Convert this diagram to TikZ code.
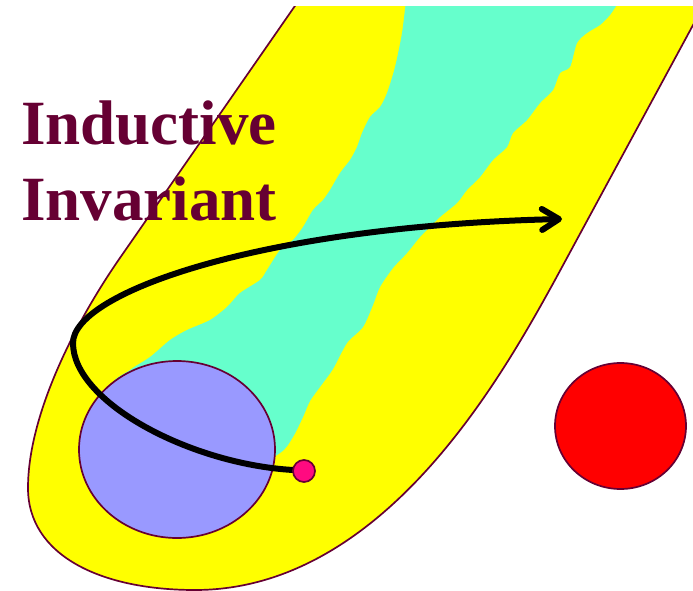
\documentclass[tikz,border=0pt]{standalone}
\usepackage{fontspec}
\setmainfont{Liberation Serif}
\usetikzlibrary{arrows.meta}
\definecolor{edgec}{HTML}{660033}
\definecolor{yel}{HTML}{FFFF00}
\definecolor{cyn}{HTML}{66FFCC}
\definecolor{blu}{HTML}{9999FF}
\definecolor{pnk}{HTML}{FF0A80}
\definecolor{rd}{HTML}{FF0000}
\tikzset{
  region/.style={draw=edgec, line width=1.7pt},
  pathline/.style={draw=black, line width=6pt, -{Straight Barb[length=17pt,width=21pt,round]}},
  blob/.style={ellipse, draw=edgec, line width=1.7pt, inner sep=0pt},
  label/.style={text=edgec, font=\bfseries\fontsize{63}{76}\selectfont, anchor=base west, inner sep=0pt}
}
\usetikzlibrary{shapes.geometric}
\begin{document}
\begin{tikzpicture}[x=1pt,y=-1pt]
\useasboundingbox (0,0) rectangle (693,591);
\begin{scope}
  \clip (0,7) rectangle (693,591);
  % yellow invariant region
  \path[region, fill=yel] (306,-10) -- (122,255)
    .. controls (75,322) and (28,415) .. (28,488)
    .. controls (28,555) and (100,590) .. (195,590)
    .. controls (382,590) and (500,380) .. (555,280)
    -- (712,-10) -- cycle;
  % cyan band
  \fill[cyn] plot[smooth, tension=0.45] coordinates {
    (406,0) (402,33) (395,67) (387,93) (380,107) (370,117) (362,133) (357,147)
    (350,160) (340,173) (330,190) (323,200) (313,210) (303,227) (293,240)
    (280,250) (267,270) (260,280) (240,293) (227,307) (210,320) (187,330)
    (170,340) (150,357) (130,370) (112,388) (150,440) (240,470)
    (280,453) (293,437) (303,417) (310,401) (320,387) (333,369) (347,343)
    (363,327) (373,305) (380,287) (393,268) (407,253) (420,237) (430,227)
    (440,217) (457,203) (467,190) (480,177) (493,160) (507,147) (513,133)
    (527,120) (540,103) (553,90) (560,73) (570,67) (577,43) (587,33)
    (600,25) (610,15) (620,0)} -- cycle;
\end{scope}
% initial states
\node[blob, fill=blu, minimum width=196pt, minimum height=177pt] (init) at (177,449.5) {};
% bad states
\node[blob, fill=rd, minimum width=131pt, minimum height=126pt] (bad) at (620.5,426) {};
% trajectory
\coordinate (start) at (304,471);
\coordinate (tip) at (562,219);
\draw[pathline] (start) -- (293,470)
  .. controls (190,464) and (73,402) .. (73,343)
  .. controls (73,293) and (260,226) .. (tip);
\node[circle, draw=edgec, line width=1.7pt, fill=pnk, minimum size=22pt, inner sep=0pt] (dot) at (start) {};
% label
\node[label] (l1) at (21,144) {Inductive};
\node[label] (l2) at (21,220) {Invariant};
\end{tikzpicture}
\end{document}
